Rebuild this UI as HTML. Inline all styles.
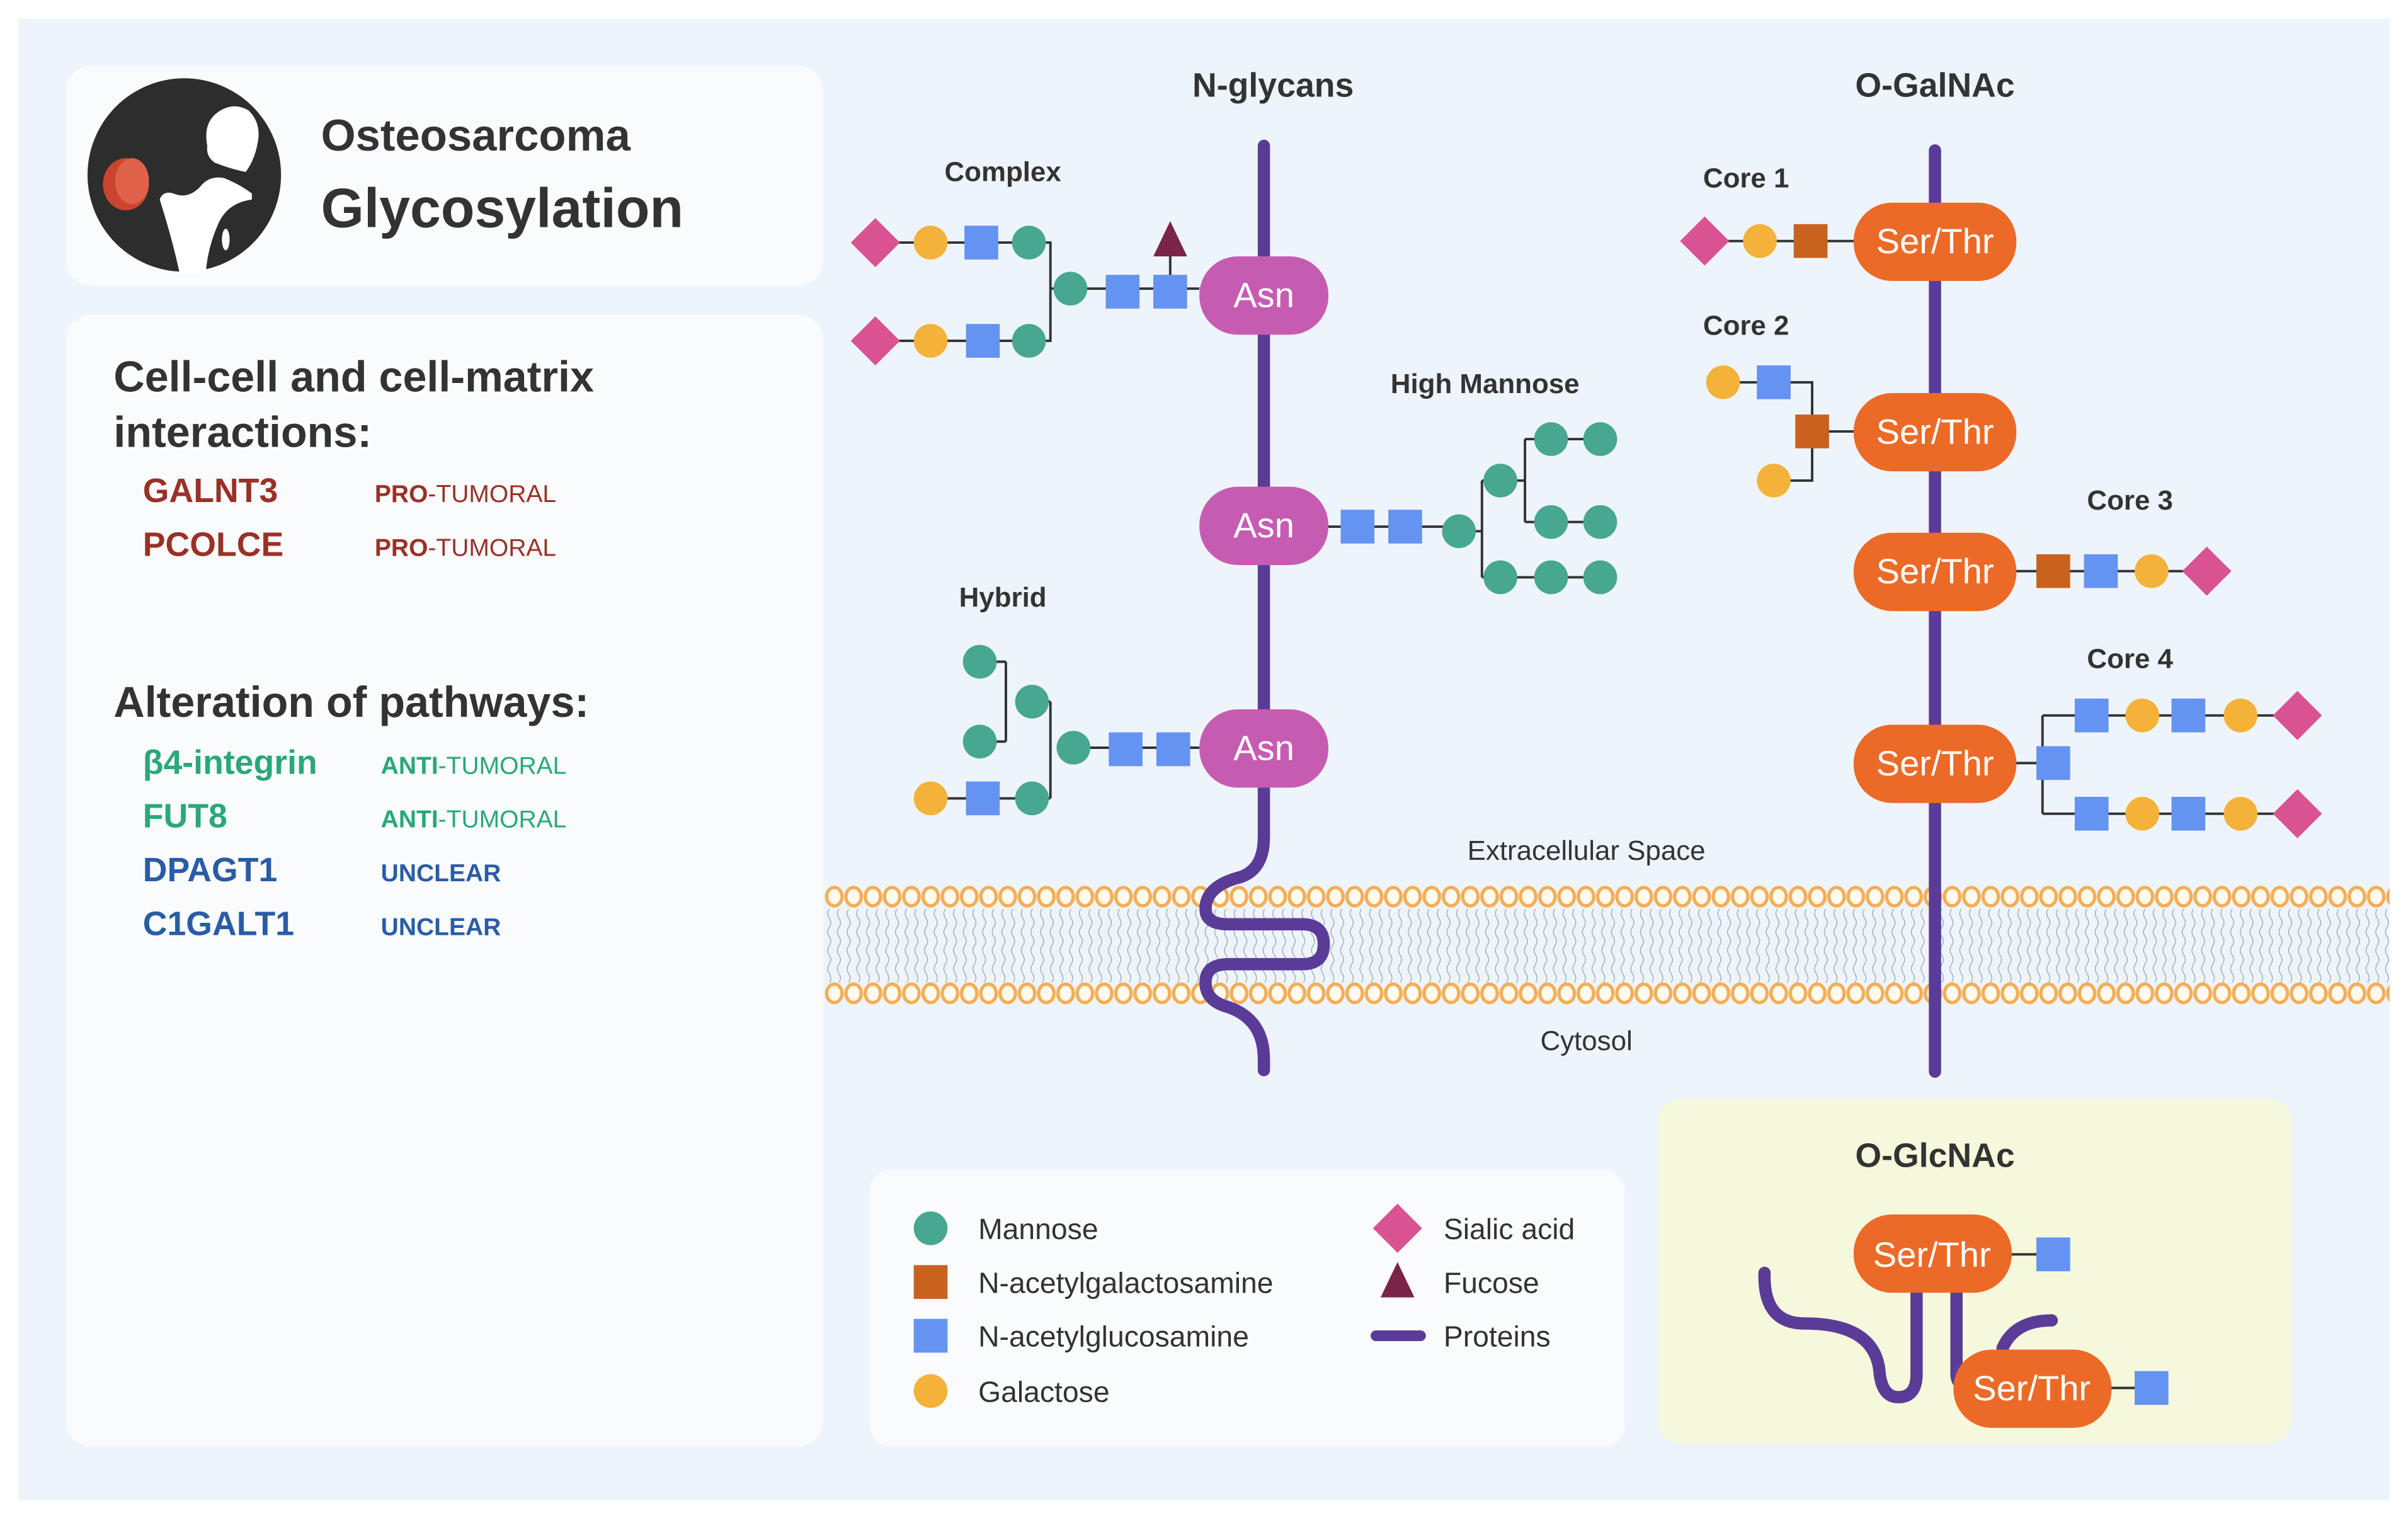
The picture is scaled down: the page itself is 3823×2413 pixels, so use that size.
<!DOCTYPE html>
<html><head><meta charset="utf-8"><style>
html,body{margin:0;padding:0;background:#fff}
svg{display:block}
text{font-family:"Liberation Sans",sans-serif}
</style></head><body>
<svg width="3823" height="2413" viewBox="0 0 1568 990" preserveAspectRatio="none" xmlns="http://www.w3.org/2000/svg">
<defs>
<pattern id="rings" patternUnits="userSpaceOnUse" x="537" y="0" width="12.55" height="990">
<ellipse cx="6.27" cy="584" rx="5" ry="6" fill="#fffaf0" stroke="#f4ae55" stroke-width="2.2"/>
<ellipse cx="6.27" cy="647" rx="5" ry="6" fill="#fffaf0" stroke="#f4ae55" stroke-width="2.2"/>
</pattern>
<pattern id="waves" patternUnits="userSpaceOnUse" x="537" y="592" width="6.3" height="48">
<path d="M3 0 q-2 3 0 6 t0 6 t0 6 t0 6" fill="none" stroke="#9aa0a8" stroke-width="0.5"/>
<path d="M3 24 q-2 3 0 6 t0 6 t0 6 t0 6" fill="none" stroke="#9aa0a8" stroke-width="0.5"/>
</pattern>
<circle id="man" r="11" fill="#47a78f"/>
<circle id="gal" r="11" fill="#f4b23a"/>
<rect id="glc" x="-11" y="-11" width="22" height="22" fill="#6593f2"/>
<rect id="gna" x="-11" y="-11" width="22" height="22" fill="#c9621f"/>
<path id="sia" d="M0 -16 L16 0 L0 16 L-16 0Z" fill="#d95393"/>
<path id="fuc" d="M0 -13 L11 10 L-11 10Z" fill="#7a2547"/>
</defs>
<rect width="1568" height="990" fill="#fff"/>
<rect x="12" y="12" width="1544" height="965" fill="#eef4fb"/>
<rect x="43" y="43" width="493" height="143" rx="16" fill="#f9fbfd"/>
<rect x="43" y="205" width="493" height="737" rx="16" fill="#f9fbfd"/>
<!-- logo -->
<circle cx="120" cy="114" r="63" fill="#2d2d2d"/>
<path d="M135 95 Q132 80 142 73 Q152 66 162 72 Q170 80 168 92 Q166 104 160 112 Q150 110 140 106 Q134 102 135 95Z" fill="#fff"/>
<path d="M104 130 Q106 124 113 126 Q122 130 130 122 Q136 114 146 116 Q156 120 164 126 L164 130 Q148 132 142 146 Q135 162 134 178 L117 178 Q112 155 104 130 Z" fill="#fff"/>
<ellipse cx="147" cy="156" rx="2.5" ry="7" fill="#fff"/>
<ellipse cx="82" cy="120" rx="15" ry="17" fill="#c9452f"/>
<ellipse cx="86" cy="118" rx="11" ry="15" fill="#e0614a"/>
<text x="209" y="98" font-size="29" font-weight="600" fill="#333">Osteosarcoma</text>
<text x="209" y="148" font-size="36" font-weight="700" fill="#333">Glycosylation</text>
<text x="74" y="255" font-size="28" font-weight="700" fill="#333">Cell-cell and cell-matrix</text>
<text x="74" y="291" font-size="28" font-weight="700" fill="#333">interactions:</text>
<g font-size="22" font-weight="700">
<text x="93" y="327" fill="#9a3127">GALNT3</text>
<text x="93" y="362" fill="#9a3127">PCOLCE</text>
<text x="74" y="467" font-size="28" fill="#333">Alteration of pathways:</text>
<text x="93" y="504" fill="#2aa877">β4-integrin</text>
<text x="93" y="539" fill="#2aa877">FUT8</text>
<text x="93" y="574" fill="#2a5ca6">DPAGT1</text>
<text x="93" y="609" fill="#2a5ca6">C1GALT1</text>
</g>
<g font-size="16">
<text x="244" y="327" fill="#9a3127"><tspan font-weight="700">PRO</tspan>-TUMORAL</text>
<text x="244" y="362" fill="#9a3127"><tspan font-weight="700">PRO</tspan>-TUMORAL</text>
<text x="248" y="504" fill="#2aa877"><tspan font-weight="700">ANTI</tspan>-TUMORAL</text>
<text x="248" y="539" fill="#2aa877"><tspan font-weight="700">ANTI</tspan>-TUMORAL</text>
<text x="248" y="574" fill="#2a5ca6" font-weight="700">UNCLEAR</text>
<text x="248" y="609" fill="#2a5ca6" font-weight="700">UNCLEAR</text>
</g>
<rect x="537" y="592" width="1019" height="48" fill="url(#waves)"/>
<rect x="537" y="576" width="1019" height="80" fill="url(#rings)"/>
<path d="M823 95 L823 545 Q823 568 805 572 Q785 578 785 592 Q785 602 800 602 L848 602 Q862 602 862 615 Q862 628 848 628 L800 628 Q785 628 785 640 Q785 652 800 656 Q823 664 823 690 L823 697" fill="none" stroke="#5a3c98" stroke-width="8" stroke-linecap="round"/>
<line x1="1260" y1="98" x2="1260" y2="698" stroke="#5a3c98" stroke-width="8" stroke-linecap="round"/>
<g font-size="22" font-weight="700" fill="#333" text-anchor="middle">
<text x="829" y="63">N-glycans</text>
<text x="1260" y="63">O-GalNAc</text>
<text x="1260" y="760">O-GlcNAc</text>
</g>
<g font-size="18" font-weight="700" fill="#333" text-anchor="middle">
<text x="653" y="118">Complex</text>
<text x="967" y="256">High Mannose</text>
<text x="653" y="395">Hybrid</text>
<text x="1137" y="122">Core 1</text>
<text x="1137" y="218">Core 2</text>
<text x="1387" y="332">Core 3</text>
<text x="1387" y="435">Core 4</text>
</g>
<g font-size="18" fill="#333" text-anchor="middle">
<text x="1033" y="560">Extracellular Space</text>
<text x="1033" y="684">Cytosol</text>
</g>
<g stroke="#333" stroke-width="1.6" fill="none">
<path d="M570 158 H684 V222 H570"/><path d="M684 188 H781"/><path d="M762 190 V160"/>
<path d="M865 343 H950"/><path d="M965 313 V376"/><path d="M950 346 H965"/><path d="M965 313 H977"/><path d="M965 376 H1042"/>
<path d="M993 286 V340"/><path d="M977 313 H993"/><path d="M993 286 H1042"/><path d="M993 340 H1042"/>
<path d="M684 457 V520"/><path d="M699 487 H781"/><path d="M672 457 H684"/><path d="M606 520 H684"/>
<path d="M655 431 V483"/><path d="M638 431 H655"/><path d="M638 483 H655"/>
<path d="M1110 157 H1210"/>
<path d="M1122 249 H1180 V313 H1155"/><path d="M1180 281 H1210"/>
<path d="M1310 372 H1437"/>
<path d="M1310 497 H1337"/><path d="M1330 466 V530"/><path d="M1330 466 H1496"/><path d="M1330 530 H1496"/>
</g>
<use href="#sia" x="570" y="158"/><use href="#gal" x="606" y="158"/><use href="#glc" x="639" y="158"/><use href="#man" x="670" y="158"/>
<use href="#sia" x="570" y="222"/><use href="#gal" x="606" y="222"/><use href="#glc" x="640" y="222"/><use href="#man" x="670" y="222"/>
<use href="#man" x="697" y="188"/><use href="#glc" x="731" y="190"/><use href="#glc" x="762" y="190"/><use href="#fuc" x="762" y="157"/>
<use href="#glc" x="884" y="343"/><use href="#glc" x="915" y="343"/><use href="#man" x="950" y="346"/>
<use href="#man" x="977" y="313"/><use href="#man" x="1010" y="286"/><use href="#man" x="1042" y="286"/>
<use href="#man" x="1010" y="340"/><use href="#man" x="1042" y="340"/>
<use href="#man" x="977" y="376"/><use href="#man" x="1010" y="376"/><use href="#man" x="1042" y="376"/>
<use href="#glc" x="764" y="488"/><use href="#glc" x="733" y="488"/><use href="#man" x="699" y="487"/>
<use href="#man" x="672" y="457"/><use href="#man" x="638" y="431"/><use href="#man" x="638" y="483"/>
<use href="#man" x="672" y="520"/><use href="#glc" x="640" y="520"/><use href="#gal" x="606" y="520"/>
<use href="#sia" x="1110" y="157"/><use href="#gal" x="1146" y="157"/><use href="#gna" x="1179" y="157"/>
<use href="#gal" x="1122" y="249"/><use href="#glc" x="1155" y="249"/><use href="#gna" x="1180" y="281"/><use href="#gal" x="1155" y="313"/>
<use href="#gna" x="1337" y="372"/><use href="#glc" x="1368" y="372"/><use href="#gal" x="1401" y="372"/><use href="#sia" x="1437" y="372"/>
<use href="#glc" x="1337" y="497"/>
<use href="#glc" x="1362" y="466"/><use href="#gal" x="1395" y="466"/><use href="#glc" x="1425" y="466"/><use href="#gal" x="1459" y="466"/><use href="#sia" x="1496" y="466"/>
<use href="#glc" x="1362" y="530"/><use href="#gal" x="1395" y="530"/><use href="#glc" x="1425" y="530"/><use href="#gal" x="1459" y="530"/><use href="#sia" x="1496" y="530"/>
<g fill="#c65cb2">
<rect x="781" y="167" width="84" height="51" rx="25"/>
<rect x="781" y="317" width="84" height="51" rx="25"/>
<rect x="781" y="462" width="84" height="51" rx="25"/>
</g>
<g font-size="23" fill="#fff" text-anchor="middle">
<text x="823" y="200">Asn</text><text x="823" y="350">Asn</text><text x="823" y="495">Asn</text>
</g>
<g fill="#ec6a27">
<rect x="1207" y="132" width="106" height="51" rx="25"/>
<rect x="1207" y="256" width="106" height="51" rx="25"/>
<rect x="1207" y="347" width="106" height="51" rx="25"/>
<rect x="1207" y="472" width="106" height="51" rx="25"/>
</g>
<g font-size="23" fill="#fff" text-anchor="middle">
<text x="1260" y="165">Ser/Thr</text><text x="1260" y="289">Ser/Thr</text><text x="1260" y="380">Ser/Thr</text><text x="1260" y="505">Ser/Thr</text>
</g>
<rect x="566" y="762" width="492" height="180" rx="14" fill="#f9fbfd"/>
<use href="#man" x="606" y="800"/><use href="#gna" x="606" y="835"/><use href="#glc" x="606" y="870"/><use href="#gal" x="606" y="906"/>
<use href="#sia" x="910" y="800"/><use href="#fuc" x="910" y="835"/>
<line x1="896" y1="870" x2="925" y2="870" stroke="#5a3c98" stroke-width="7" stroke-linecap="round"/>
<g font-size="19" fill="#333">
<text x="637" y="807">Mannose</text><text x="637" y="842">N-acetylgalactosamine</text><text x="637" y="877">N-acetylglucosamine</text><text x="637" y="913">Galactose</text>
<text x="940" y="807">Sialic acid</text><text x="940" y="842">Fucose</text><text x="940" y="877">Proteins</text>
</g>
<rect x="1080" y="716" width="412" height="224" rx="14" fill="#f6f8dc"/>
<text x="1260" y="760" font-size="22" font-weight="700" fill="#333" text-anchor="middle">O-GlcNAc</text>
<g fill="none" stroke="#5a3c98" stroke-width="8" stroke-linecap="round">
<path d="M1149 829 Q1148 862 1175 862 Q1222 862 1224 895 Q1226 910 1236 910 Q1248 910 1248 895 L1248 835"/>
<path d="M1274 835 L1274 895 Q1274 905 1290 905"/>
<path d="M1304 878 Q1312 860 1336 860"/>
</g>
<g stroke="#333" stroke-width="1.6"><path d="M1300 817 H1337"/><path d="M1365 904 H1401"/></g>
<rect x="1207" y="791" width="103" height="51" rx="25" fill="#ec6a27"/>
<rect x="1272" y="879" width="103" height="51" rx="25" fill="#ec6a27"/>
<use href="#glc" x="1337" y="817"/><use href="#glc" x="1401" y="904"/>
<g font-size="23" fill="#fff" text-anchor="middle">
<text x="1258" y="825">Ser/Thr</text><text x="1323" y="912">Ser/Thr</text>
</g>
</svg>
</body></html>
